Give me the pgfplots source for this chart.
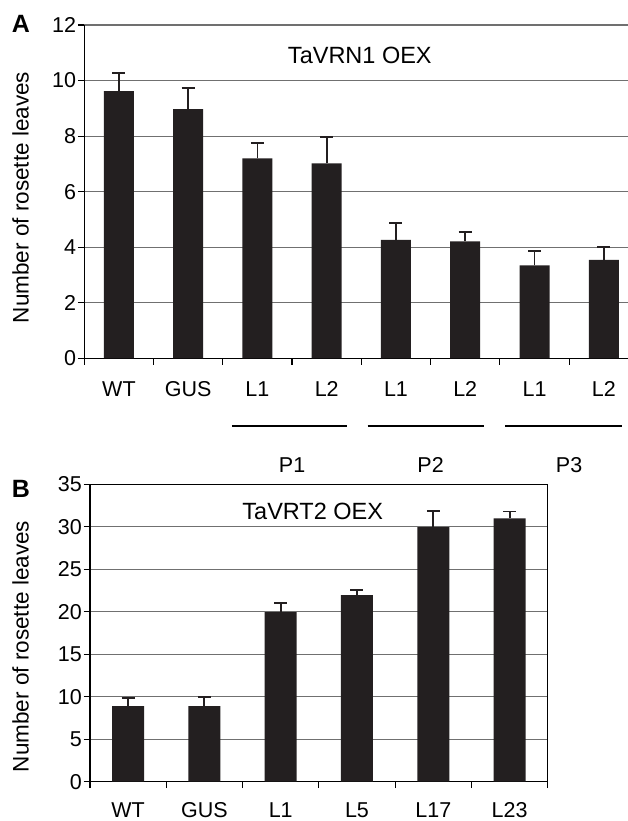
\documentclass[border=0pt]{standalone}
\usepackage{fontspec}
\setmainfont{Liberation Sans}
\usepackage{pgfplots}
\usepackage{pgfplotstable}
\pgfplotsset{compat=1.18}
\definecolor{barcol}{HTML}{231F20}
\definecolor{gridcol}{HTML}{707070}

\pgfplotstableread{
x y e
0 9.62 0.65
1 8.97 0.77
2 7.20 0.56
3 7.02 0.94
4 4.26 0.62
5 4.21 0.34
6 3.35 0.52
7 3.54 0.46
}\dataA

\pgfplotstableread{
x y e
0 8.90 0.90
1 8.90 1.06
2 19.96 1.04
3 21.96 0.55
4 29.96 1.90
5 31.00 0.80
}\dataB

\pgfplotsset{
  common/.style={
    scale only axis,
    /pgf/number format/assume math mode=true,
    tick label style={font=\fontsize{21.5}{25}\selectfont},
    ymin=0,
    ymajorgrids,
    grid style={gridcol, line width=1.2pt},
    axis line style={black, line width=1.3pt},
    tick style={black, line width=1.2pt},
    tick align=outside,
    xtick pos=bottom, ytick pos=left,
    major tick length=6.5pt,
    xticklabels={},
    yticklabel style={inner sep=1.5pt},
    extra x tick style={major tick length=0pt, xticklabel style={anchor=base}},
  },
  barstyle/.style={
    ybar, fill=barcol, draw=none,
    error bars/.cd, y dir=plus, y explicit,
    error mark=-,
    error bar style={barcol, line width=1.9pt},
    error mark options={rotate=90, barcol, line width=1.9pt, mark size=6.5pt},
  },
}

\begin{document}
\begin{tikzpicture}[font=\fontsize{21.5}{25}\selectfont]
% Panel A
\begin{axis}[common,
  at={(84.3pt,-358.3pt)}, anchor=south west,
  width=543.7pt, height=333.3pt,
  xmin=-0.5, xmax=7.35, ymax=12,
  ytick={0,2,...,12},
  xtick={-0.5,0.5,...,7.5},
  extra x ticks={0,1,...,7},
  extra x tick labels={WT,GUS,L1,L2,L1,L2,L1,L2},
  extra x tick style={xticklabel style={yshift=-38.4pt}},
  axis x line*=bottom, axis y line*=left,
  axis line style={-},
  bar width=30pt,
  clip=false,
]
\addplot[barstyle] table[x=x, y=y, y error=e] {\dataA};
\node[font=\fontsize{23.5}{27}\selectfont] at (axis cs:3.478,10.92) {TaVRN1 OEX};
\draw[black, line width=2.6pt] (axis cs:1.63,-2.437) -- (axis cs:3.29,-2.437);
\draw[black, line width=2.6pt] (axis cs:3.59,-2.437) -- (axis cs:5.27,-2.437);
\draw[black, line width=2.6pt] (axis cs:5.58,-2.437) -- (axis cs:7.26,-2.437);
\node at (axis cs:2.5,-3.84) {P1};
\node at (axis cs:4.5,-3.84) {P2};
\node at (axis cs:6.5,-3.84) {P3};
\end{axis}
\node[font=\fontsize{25}{28}\selectfont\bfseries] at (21pt,-23.5pt) {A};
\node[rotate=90, font=\fontsize{22.5}{26}\selectfont] at (20.5pt,-197.5pt) {Number of rosette leaves};

% Panel B
\begin{axis}[common,
  at={(90pt,-781.7pt)}, anchor=south west,
  width=457.7pt, height=297.4pt,
  xmin=-0.5, xmax=5.5, ymax=35,
  ytick={0,5,...,35},
  xtick={-0.5,0.5,...,5.5},
  extra x ticks={0,1,...,5},
  extra x tick labels={WT,GUS,L1,L5,L17,L23},
  extra x tick style={xticklabel style={yshift=-35.6pt}},
  bar width=32pt,
]
\addplot[barstyle] table[x=x, y=y, y error=e] {\dataB};
\node[font=\fontsize{23.5}{27}\selectfont] at (axis cs:2.42,31.76) {TaVRT2 OEX};
\end{axis}
\node[font=\fontsize{25}{28}\selectfont\bfseries] at (21pt,-489pt) {B};
\node[rotate=90, font=\fontsize{22.5}{26}\selectfont] at (20.5pt,-646.5pt) {Number of rosette leaves};

\pgfresetboundingbox
\path[use as bounding box] (0pt,0pt) rectangle (628pt,-821pt);
\end{tikzpicture}
\end{document}
